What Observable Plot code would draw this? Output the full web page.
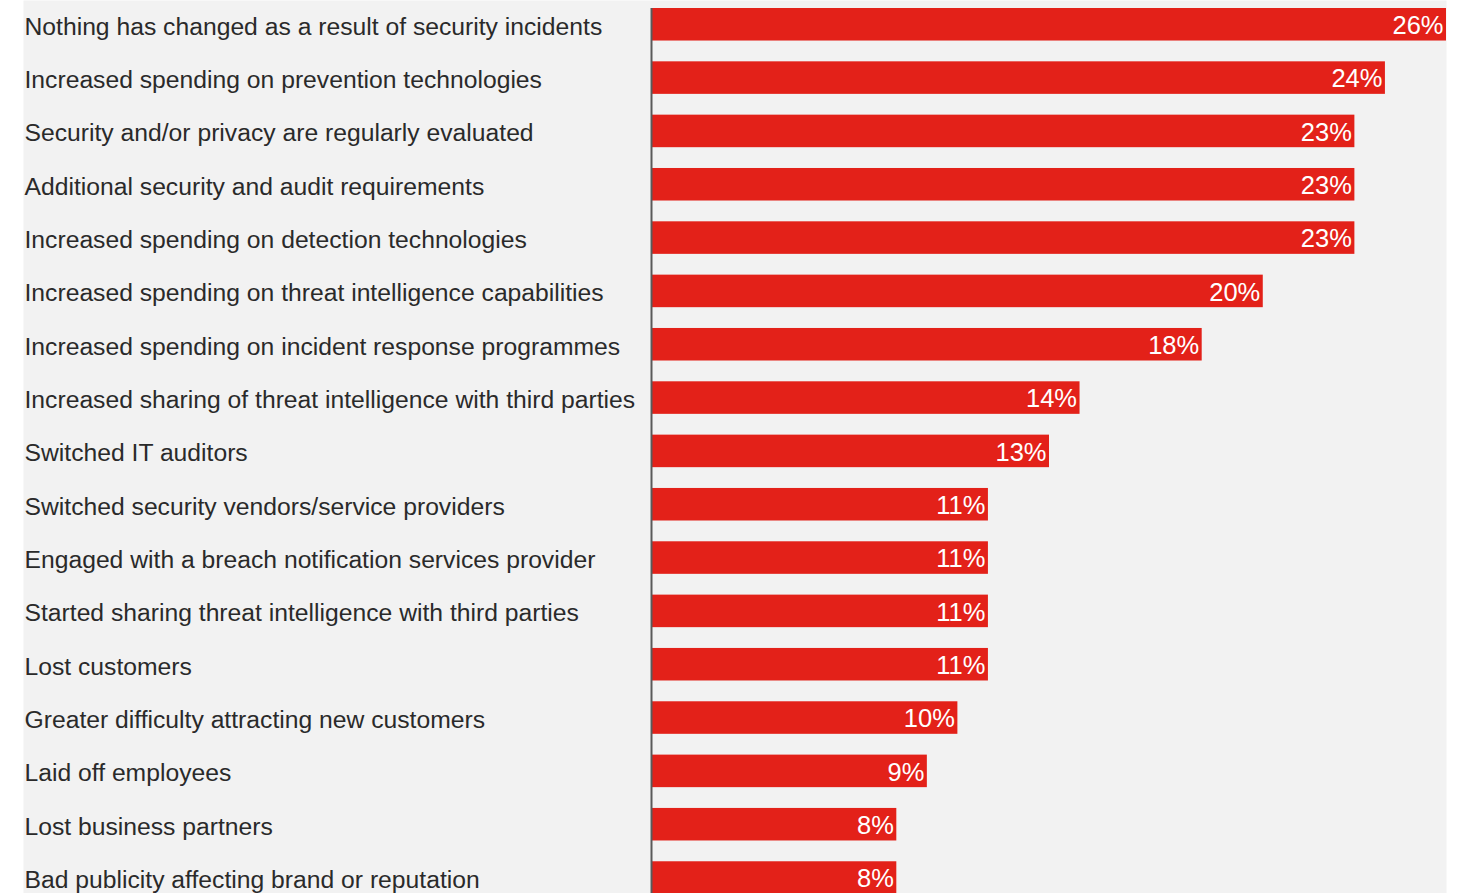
<!DOCTYPE html>
<html>
<head>
<meta charset="utf-8">
<script src="https://cdn.jsdelivr.net/npm/d3@7"></script>
<script src="https://cdn.jsdelivr.net/npm/@observablehq/plot@0.6"></script>
<style>
  html, body { margin: 0; padding: 0; background: #ffffff; }
  #chart svg { display: block; }
</style>
</head>
<body>
<div id="chart"></div>
<script>
const categories = [
  "Nothing has changed as a result of security incidents",
  "Increased spending on prevention technologies",
  "Security and/or privacy are regularly evaluated",
  "Additional security and audit requirements",
  "Increased spending on detection technologies",
  "Increased spending on threat intelligence capabilities",
  "Increased spending on incident response programmes",
  "Increased sharing of threat intelligence with third parties",
  "Switched IT auditors",
  "Switched security vendors/service providers",
  "Engaged with a breach notification services provider",
  "Started sharing threat intelligence with third parties",
  "Lost customers",
  "Greater difficulty attracting new customers",
  "Laid off employees",
  "Lost business partners",
  "Bad publicity affecting brand or reputation"
];
const values = [26, 24, 23, 23, 23, 20, 18, 14, 13, 11, 11, 11, 11, 10, 9, 8, 8];

const data = categories.map((c, i) => ({category: c, value: values[i]}));

const font = "'Liberation Sans', Arial, Helvetica, sans-serif";

const chart = Plot.plot({
  width: 1472,
  height: 893,
  marginTop: 0,
  marginBottom: 0,
  marginLeft: 23,
  marginRight: 26,
  style: {fontFamily: font, background: "transparent"},
  x: {domain: [0, 26], range: [652, 1446], axis: null},
  y: {domain: categories, range: [-12.8, 914.6], padding: 0.39, round: false, axis: null},
  marks: [
    Plot.frame({fill: "#f2f2f2", stroke: null}),
    Plot.barX(data, {x: "value", y: "category", fill: "#e32119"}),
    Plot.ruleX([0], {stroke: "#5a5a5a", strokeWidth: 2, dx: -1, insetTop: 8}),
    Plot.text(data, {
      y: "category",
      text: "category",
      frameAnchor: "left",
      textAnchor: "start",
      dx: 1,
      dy: 2,
      fontSize: 24.7,
      fill: "#2a2a2a"
    }),
    Plot.text(data, {
      x: "value",
      y: "category",
      text: d => d.value + "%",
      textAnchor: "end",
      dx: -3,
      dy: 1,
      fontSize: 25.5,
      fill: "#ffffff"
    })
  ]
});
document.getElementById("chart").appendChild(chart);
</script>
</body>
</html>
